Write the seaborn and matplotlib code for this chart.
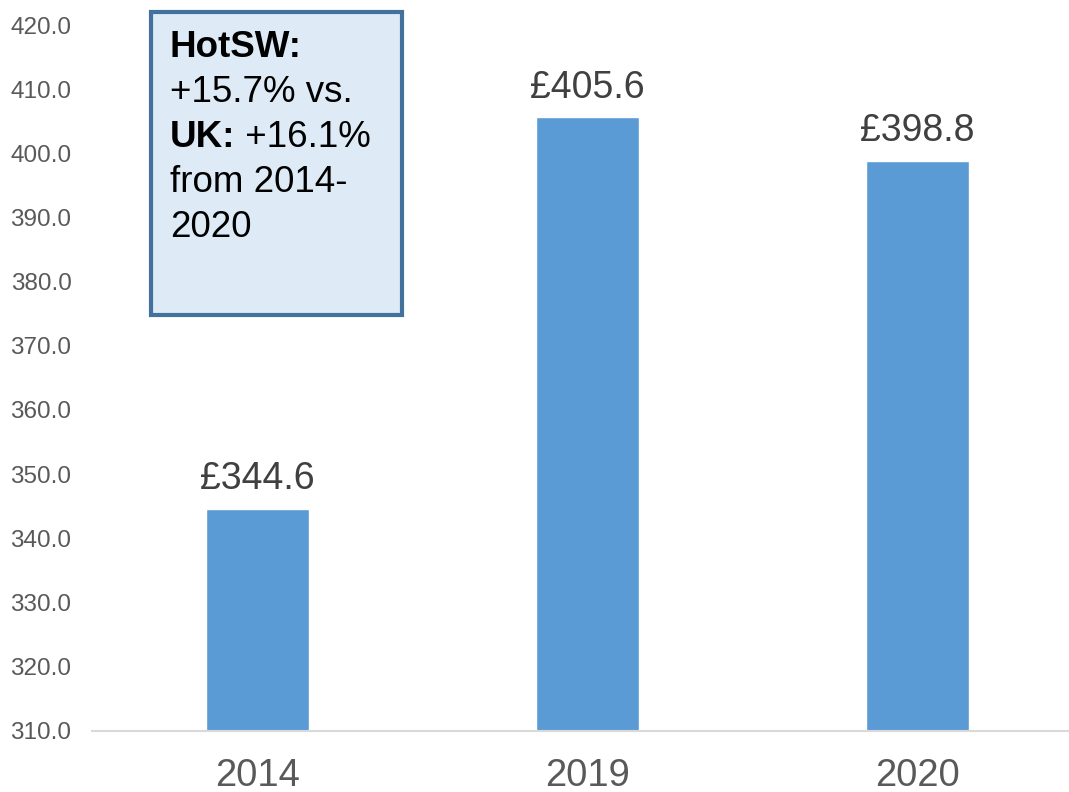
import matplotlib
matplotlib.use("Agg")
import matplotlib.pyplot as plt
import seaborn as sns
import pandas as pd
from matplotlib.patches import Rectangle
from matplotlib.text import Annotation

years = ["2014", "2019", "2020"]
values = [344.6, 405.6, 398.8]
bar_labels = ["£344.6", "£405.6", "£398.8"]
yticks = [310, 320, 330, 340, 350, 360, 370, 380, 390, 400, 410, 420]

sns.set_theme(style="white")
plt.rcParams["font.family"] = ["Liberation Sans", "DejaVu Sans"]

W, H = 1069, 792
fig = plt.figure(figsize=(W / 100, H / 100), dpi=100)
ax_left, ax_right, ax_top, ax_bottom = 92.3, 1069, 25, 730.7
ax = fig.add_axes([ax_left / W, 1 - ax_bottom / H, (ax_right - ax_left) / W, (ax_bottom - ax_top) / H])

df = pd.DataFrame({"year": years, "value": values})
sns.barplot(data=df, x="year", y="value", color="#5B9BD5", width=0.313, ax=ax, saturation=1)

ax.set_ylim(310, 420)
ax.set_xlim(-0.5, 2.459)
ax.set_yticks(yticks)
ax.set_yticklabels([f"{v:.1f}" for v in yticks])
ax.set_xlabel("")
ax.set_ylabel("")
for s in ["left", "right", "top"]:
    ax.spines[s].set_visible(False)
ax.spines["bottom"].set_color("#D9D9D9")
ax.spines["bottom"].set_linewidth(1.5)
ax.tick_params(axis="y", length=0, pad=15, labelsize=17.5, labelcolor="#595959")
ax.tick_params(axis="x", length=0, pad=19.5, labelsize=27.5, labelcolor="#595959")

ax.bar_label(ax.containers[0], labels=bar_labels, padding=8.5, fontsize=27, color="#404040")

# annotation box
def px(x, y):
    return x / W, 1 - y / H

bx0, by0, bx1, by1 = 150.5, 11.5, 402, 315
rect = Rectangle(px(bx0, by1), (bx1 - bx0) / W, (by1 - by0) / H, transform=fig.transFigure,
                 facecolor="#DEEBF7", edgecolor="#41719C", linewidth=3, zorder=5)
fig.patches.append(rect)

fs = 26.5
tx = 170
base = [57, 102, 147, 192, 237]
fig.text(*px(tx, base[0]), "HotSW:", fontsize=fs, fontweight="bold", color="black", va="baseline", zorder=6)
fig.text(*px(tx, base[1]), "+15.7% vs.", fontsize=fs, color="black", va="baseline", zorder=6)
t_uk = fig.text(*px(tx, base[2]), "UK:", fontsize=fs, fontweight="bold", color="black", va="baseline", zorder=6)
ann = Annotation(" +16.1%", xy=(1, 0), xycoords=t_uk, va="bottom", ha="left", fontsize=fs, color="black",
                 annotation_clip=False, zorder=6)
fig.add_artist(ann)
fig.text(*px(tx, base[3]), "from 2014-", fontsize=fs, color="black", va="baseline", zorder=6)
fig.text(*px(tx, base[4]), "2020", fontsize=fs, color="black", va="baseline", zorder=6)

fig.savefig("out.png", dpi=100)
